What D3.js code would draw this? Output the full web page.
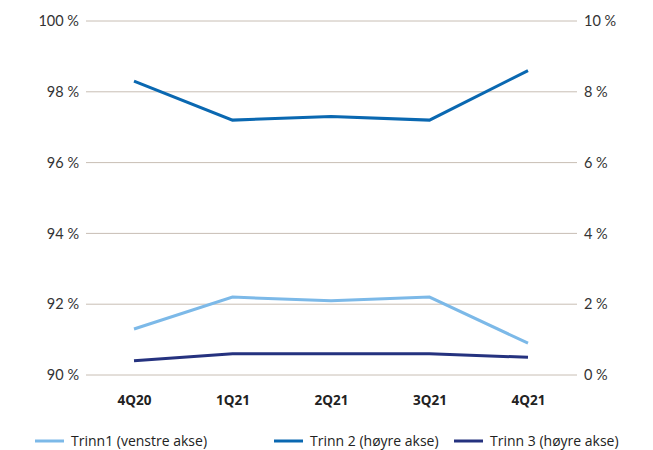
<!DOCTYPE html>
<html><head><meta charset="utf-8">
<script src="https://cdn.jsdelivr.net/npm/d3@7"></script>
<style>body{margin:0;background:#fff;}</style>
</head><body>
<svg id="c" width="653" height="450"></svg>
<script>
const categories = ["4Q20","1Q21","2Q21","3Q21","4Q21"];
const trinn1 = [91.3, 92.2, 92.1, 92.2, 90.9];   // left axis
const trinn2 = [8.3, 7.2, 7.3, 7.2, 8.6];        // right axis
const trinn3 = [0.4, 0.6, 0.6, 0.6, 0.5];        // right axis
const leftTicks = [90, 92, 94, 96, 98, 100];
const rightTicks = [0, 2, 4, 6, 8, 10];
const seriesNames = ["Trinn1 (venstre akse)", "Trinn 2 (høyre akse)", "Trinn 3 (høyre akse)"];
const colors = ["#7cb9e8", "#0a68b1", "#25327f"];

const svg = d3.select("#c");
const x0 = 86, x1 = 577, yTop = 21, yBot = 375;
const x = d3.scalePoint().domain(categories).range([134, 528]);
const yL = d3.scaleLinear().domain([90, 100]).range([yBot, yTop]);
const yR = d3.scaleLinear().domain([0, 10]).range([yBot, yTop]);
const font = "'Open Sans', sans-serif";

// gridlines
svg.append("g").selectAll("line").data(leftTicks).join("line")
  .attr("x1", x0).attr("x2", x1)
  .attr("y1", d => yL(d)).attr("y2", d => yL(d))
  .attr("stroke", "#c8beb4").attr("stroke-width", 1);

// left axis
const gl = svg.append("g").attr("transform", `translate(${x0},0)`)
  .call(d3.axisLeft(yL).tickValues(leftTicks).tickSize(0).tickPadding(7).tickFormat(d => d + " %"));
gl.select(".domain").remove();
gl.selectAll("text").attr("font-family", "Lato, sans-serif").attr("font-size", 14.5).attr("fill", "#333");

// right axis
const gr = svg.append("g").attr("transform", `translate(${x1},0)`)
  .call(d3.axisRight(yR).tickValues(rightTicks).tickSize(0).tickPadding(7).tickFormat(d => d + " %"));
gr.select(".domain").remove();
gr.selectAll("text").attr("font-family", "Lato, sans-serif").attr("font-size", 14.5).attr("fill", "#333");

// x axis
const gx = svg.append("g").attr("transform", `translate(0,${yBot})`)
  .call(d3.axisBottom(x).tickSize(0).tickPadding(20));
gx.select(".domain").remove();
gx.selectAll("text").attr("font-family", font).attr("font-size", 13.5).attr("font-weight", "bold").attr("fill", "#222");

// lines
const lineL = d3.line().x((d, i) => x(categories[i])).y(d => yL(d));
const lineR = d3.line().x((d, i) => x(categories[i])).y(d => yR(d));
svg.append("path").datum(trinn3).attr("d", lineR).attr("fill", "none").attr("stroke", colors[2]).attr("stroke-width", 3);
svg.append("path").datum(trinn1).attr("d", lineL).attr("fill", "none").attr("stroke", colors[0]).attr("stroke-width", 3);
svg.append("path").datum(trinn2).attr("d", lineR).attr("fill", "none").attr("stroke", colors[1]).attr("stroke-width", 3);

// legend
const legX = [35, 274, 454];
const lg = svg.append("g").selectAll("g").data(seriesNames).join("g")
  .attr("transform", (d, i) => `translate(${legX[i]},441)`);
lg.append("line").attr("x1", 0).attr("x2", 29).attr("y1", 0).attr("y2", 0)
  .attr("stroke", (d, i) => colors[i]).attr("stroke-width", 3);
lg.append("text").attr("x", 36).attr("y", 0).attr("dy", "0.35em")
  .attr("font-family", font).attr("font-size", 14).attr("fill", "#222").text(d => d);
</script>
</body></html>
